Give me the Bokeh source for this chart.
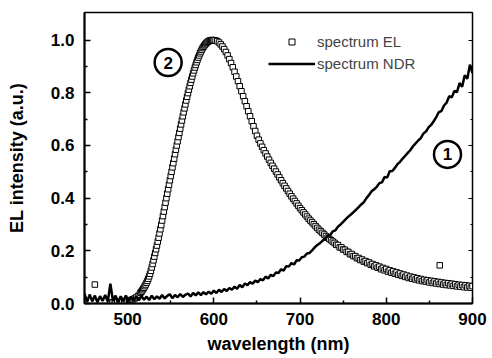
from bokeh.plotting import figure
from bokeh.models import (Range1d, LinearAxis, FixedTicker, PrintfTickFormatter,
                          Legend, LegendItem, ColumnDataSource)
from bokeh.core.properties import value
from bokeh.embed import file_html
from bokeh.resources import INLINE

# ---------------- data ----------------
el_nm = list(range(480, 515, 2)) + list(range(515, 600)) + list(range(600, 901, 2))
el_val = [
    0.004, 0.004, 0.005, 0.004, 0.005, 0.005, 0.006, 0.006, 0.007, 0.008,
    0.009, 0.011, 0.013, 0.016, 0.019, 0.023, 0.028, 0.034,
    0.041, 0.045, 0.05, 0.055, 0.06, 0.066, 0.072, 0.079, 0.086, 0.094,
    0.103, 0.113, 0.124, 0.137, 0.15, 0.164, 0.178, 0.192, 0.206, 0.22,
    0.235, 0.25, 0.266, 0.282, 0.298, 0.315, 0.332, 0.349, 0.366, 0.383,
    0.4, 0.417, 0.434, 0.451, 0.468, 0.484, 0.5, 0.517, 0.533, 0.55,
    0.567, 0.584, 0.6, 0.616, 0.632, 0.648, 0.664, 0.68, 0.695, 0.711,
    0.726, 0.741, 0.756, 0.771, 0.785, 0.799, 0.812, 0.825, 0.838, 0.85,
    0.862, 0.874, 0.885, 0.896, 0.906, 0.916, 0.925, 0.934, 0.942, 0.95,
    0.957, 0.964, 0.97, 0.975, 0.98, 0.984, 0.988, 0.991, 0.994, 0.996,
    0.998, 0.999, 1.0, 1.0, 1.0,
    1.0,
    0.999, 0.996, 0.991, 0.984, 0.976, 0.966, 0.955, 0.942, 0.928, 0.913,
    0.897, 0.88, 0.862, 0.844, 0.825, 0.806, 0.787, 0.768, 0.749, 0.73,
    0.711, 0.692, 0.673, 0.655, 0.637, 0.622, 0.608, 0.595, 0.582, 0.57,
    0.558, 0.546, 0.534, 0.523, 0.512, 0.501, 0.49, 0.479, 0.468, 0.457,
    0.447, 0.437, 0.427, 0.417, 0.407, 0.398, 0.389, 0.38, 0.371, 0.362,
    0.354, 0.346, 0.338, 0.33, 0.322, 0.315, 0.308, 0.301, 0.294, 0.287,
    0.28, 0.274, 0.268, 0.262, 0.256, 0.25, 0.245, 0.24, 0.235, 0.23,
    0.223, 0.222, 0.213, 0.213, 0.205, 0.204, 0.196, 0.196, 0.187, 0.188,
    0.18, 0.18, 0.172, 0.173, 0.165, 0.167, 0.159, 0.161, 0.153, 0.156,
    0.147, 0.15, 0.141, 0.145, 0.136, 0.14, 0.13, 0.135, 0.126, 0.131,
    0.121, 0.126, 0.117, 0.122, 0.113, 0.118, 0.109, 0.114, 0.105, 0.11,
    0.101, 0.106, 0.097, 0.102, 0.094, 0.099, 0.091, 0.096, 0.088, 0.093,
    0.085, 0.09, 0.083, 0.088, 0.08, 0.086, 0.078, 0.084, 0.076, 0.082,
    0.074, 0.08, 0.072, 0.078, 0.07, 0.077, 0.069, 0.075, 0.067, 0.073,
    0.065, 0.071, 0.064, 0.07, 0.062, 0.069, 0.061, 0.067, 0.06, 0.066,
]
el_outlier_nm = [462, 862]
el_outlier_val = [0.072, 0.145]

ndr_nm = list(range(450, 901, 3))
ndr_val = [
    0.038, 0.006, 0.034, 0.008, 0.03, 0.005, 0.028, 0.01, 0.032, 0.007,
    0.075, 0.01, 0.03, 0.006, 0.027, 0.009, 0.03, 0.008, 0.026, 0.012,
    0.027, 0.012, 0.029, 0.014, 0.026, 0.013, 0.03, 0.016, 0.027, 0.018,
    0.032, 0.019, 0.029, 0.035, 0.02, 0.032, 0.024, 0.036, 0.025, 0.033,
    0.038, 0.027, 0.04, 0.031, 0.042, 0.032, 0.043, 0.035, 0.045, 0.037,
    0.049, 0.04, 0.052, 0.044, 0.055, 0.048, 0.059, 0.052, 0.064, 0.056,
    0.07, 0.062, 0.076, 0.07, 0.081, 0.075, 0.087, 0.081, 0.093, 0.088,
    0.102, 0.095, 0.109, 0.104, 0.118, 0.116, 0.13, 0.125, 0.142, 0.14,
    0.154, 0.148, 0.164, 0.163, 0.176, 0.178, 0.19, 0.192, 0.202, 0.213,
    0.222, 0.229, 0.238, 0.246, 0.257, 0.26, 0.274, 0.278, 0.292, 0.3,
    0.31, 0.32, 0.33, 0.338, 0.347, 0.356, 0.366, 0.376, 0.385, 0.4,
    0.412, 0.426, 0.434, 0.443, 0.457, 0.46, 0.48, 0.478, 0.502, 0.503,
    0.515, 0.529, 0.538, 0.55, 0.561, 0.572, 0.583, 0.597, 0.608, 0.619,
    0.628, 0.645, 0.653, 0.669, 0.678, 0.692, 0.708, 0.727, 0.731, 0.752,
    0.763, 0.787, 0.783, 0.807, 0.803, 0.837, 0.823, 0.867, 0.853, 0.907,
    0.875,
]

x_ticks = [500, 600, 700, 800, 900]
x_minor = [550, 650, 750, 850]
y_ticks = [0.0, 0.2, 0.4, 0.6, 0.8, 1.0]
y_minor = [0.1, 0.3, 0.5, 0.7, 0.9]

series_labels = ["spectrum EL", "spectrum NDR"]
circle_labels = ["2", "1"]
circle_x = [547, 871]
circle_y = [0.915, 0.566]

FONT = "Liberation Sans"

# ---------------- figure ----------------
p = figure(width=492, height=358, output_backend="svg", toolbar_location=None,
           x_range=Range1d(450, 900), y_range=Range1d(0, 1.105),
           min_border_left=84, min_border_right=20, min_border_top=12, min_border_bottom=55)
p.background_fill_color = "white"
p.border_fill_color = "white"
p.outline_line_color = "black"
p.outline_line_width = 1.5
p.xgrid.visible = False
p.ygrid.visible = False

xa = p.xaxis[0]
xa.ticker = FixedTicker(ticks=x_ticks, minor_ticks=x_minor)
ya = p.yaxis[0]
ya.ticker = FixedTicker(ticks=y_ticks, minor_ticks=y_minor)
ya.formatter = PrintfTickFormatter(format="%.1f")
xa.axis_label = "wavelength (nm)"
ya.axis_label = "EL intensity (a.u.)"

for ax in (xa, ya):
    ax.axis_line_color = "black"
    ax.axis_line_width = 2
    ax.major_tick_in = 6
    ax.major_tick_out = 0
    ax.minor_tick_in = 3
    ax.minor_tick_out = 0
    ax.major_tick_line_width = 1.5
    ax.minor_tick_line_width = 1.5
    ax.major_label_text_font = FONT
    ax.major_label_text_font_size = "17px"
    ax.major_label_text_font_style = "bold"
    ax.major_label_text_color = "black"
    ax.axis_label_text_font = FONT
    ax.axis_label_text_font_size = "18px"
    ax.axis_label_text_font_style = "bold"
    ax.axis_label_text_color = "black"
xa.major_label_standoff = 9
xa.axis_label_standoff = 6
ya.major_label_standoff = 10
ya.axis_label_standoff = 21

ra = LinearAxis(ticker=FixedTicker(ticks=y_ticks, minor_ticks=y_minor),
                major_label_overrides={t: "" for t in y_ticks},
                major_label_standoff=0, axis_line_width=1,
                major_tick_in=4, major_tick_out=0, minor_tick_in=2, minor_tick_out=0)
p.add_layout(ra, "right")

el_src = ColumnDataSource(dict(x=el_nm + el_outlier_nm, y=el_val + el_outlier_val))
r_el = p.scatter("x", "y", source=el_src, marker="square", size=5.5,
                 fill_color="white", line_color="black", line_width=1)
r_ndr = p.line(ndr_nm, ndr_val, line_color="black", line_width=2.5)

# circled numbers
csrc = ColumnDataSource(dict(x=circle_x, y=circle_y, t=circle_labels))
p.scatter("x", "y", source=csrc, marker="circle", size=27, fill_color="white",
          line_color="black", line_width=2.5)
p.text("x", "y", text="t", source=csrc, text_font=value(FONT), text_font_size="17px",
       text_font_style="bold", text_align="center", text_baseline="middle",
       text_color="black")

legend = Legend(items=[LegendItem(label=series_labels[0], renderers=[r_el]),
                       LegendItem(label=series_labels[1], renderers=[r_ndr])],
                location=(184, 230), padding=0, margin=0, spacing=2,
                glyph_width=47, glyph_height=15, label_height=20, label_standoff=2,
                label_text_font=FONT, label_text_font_size="15px",
                border_line_color=None, background_fill_alpha=0)
p.add_layout(legend)

open("out.html", "w").write(file_html(p, INLINE))
